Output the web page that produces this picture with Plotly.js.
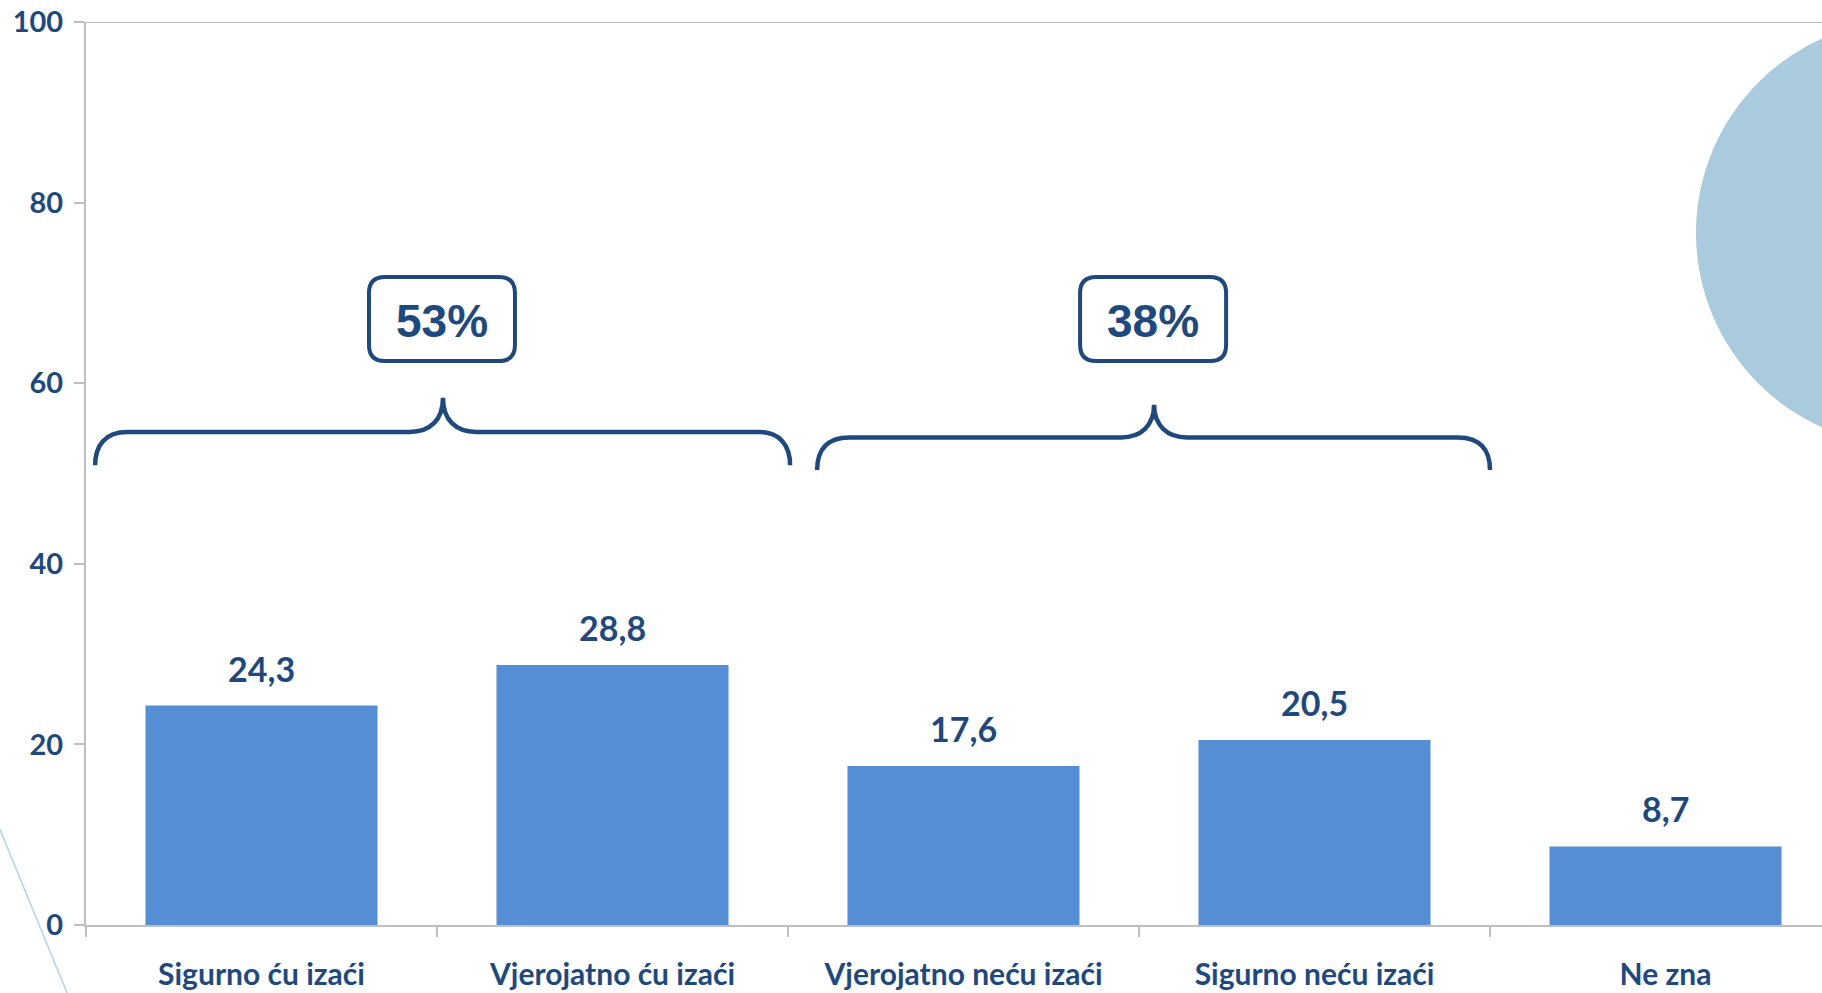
<!DOCTYPE html>
<html>
<head>
<meta charset="utf-8">
<script src="https://cdn.plot.ly/plotly-3.0.1.min.js"></script>
<style>
html,body{margin:0;padding:0;overflow:hidden;background:#fff;}
#chart{width:1822px;height:993px;}
</style>
</head>
<body>
<div id="chart"></div>
<script>
// ---- data ----
const categories = ["Sigurno ću izaći", "Vjerojatno ću izaći", "Vjerojatno neću izaći", "Sigurno neću izaći", "Ne zna"];
const values = [24.3, 28.8, 17.6, 20.5, 8.7];
const yTicks = [0, 20, 40, 60, 80, 100];
const groupLabels = ["53%", "38%"];
const groupLeft = [-0.474, 1.583];
const groupRight = [1.506, 3.5];
const groupPeak = [0.517, 2.543];
const groupEndY = [50.9, 50.4];
const groupLineY = [54.6, 54.0];
const groupPeakY = [58.4, 57.6];

// ---- geometry ----
const W = 1822, H = 993;
const M = {l: 86, r: 0, t: 22, b: 68};
const PW = W - M.l - M.r, PH = H - M.t - M.b;
const catPx = 351;
const xMin = -0.5, xMax = -0.5 + PW / catPx;
const navy = "#1F497D";
const grey = "#BFBFBF";

// data -> pixel, pixel -> paper
const dx = x => M.l + (x - xMin) / (xMax - xMin) * PW;
const dy = y => M.t + (1 - y / 100) * PH;
const ppx = px => (px - M.l) / PW;
const ppy = py => (M.t + PH - py) / PH;
const P = (x, y) => ppx(x).toFixed(5) + "," + ppy(y).toFixed(5);

function bracePath(i) {
  const xl = dx(groupLeft[i]), xr = dx(groupRight[i]), xp = dx(groupPeak[i]);
  const ye = dy(groupEndY[i]), yl = dy(groupLineY[i]), yp = dy(groupPeakY[i]);
  const r = 32, c = 33;
  return "M " + P(xl, ye) +
    " C " + P(xl, ye - 20) + " " + P(xl + 10, yl) + " " + P(xl + r, yl) +
    " L " + P(xp - c, yl) +
    " C " + P(xp - 13, yl) + " " + P(xp, yl - 12) + " " + P(xp, yp) +
    " C " + P(xp, yl - 12) + " " + P(xp + 13, yl) + " " + P(xp + c, yl) +
    " L " + P(xr - r, yl) +
    " C " + P(xr - 10, yl) + " " + P(xr, ye - 20) + " " + P(xr, ye);
}
function roundRect(cx, y0, y1, w, r) {
  const x0 = cx - w / 2, x1 = cx + w / 2;
  return "M " + P(x0 + r, y0) + " L " + P(x1 - r, y0) +
    " Q " + P(x1, y0) + " " + P(x1, y0 + r) +
    " L " + P(x1, y1 - r) + " Q " + P(x1, y1) + " " + P(x1 - r, y1) +
    " L " + P(x0 + r, y1) + " Q " + P(x0, y1) + " " + P(x0, y1 - r) +
    " L " + P(x0, y0 + r) + " Q " + P(x0, y0) + " " + P(x0 + r, y0) + " Z";
}

const shapes = [
  // decorative circle top-right
  {type: "circle", xref: "paper", yref: "paper", layer: "below",
   x0: ppx(1696), x1: ppx(2122), y0: ppy(446), y1: ppy(20),
   fillcolor: "#AACADD", line: {width: 0}},
  // decorative arc bottom-left
  {type: "path", xref: "paper", yref: "paper", layer: "below",
   path: "M " + P(-6, 815) + " Q " + P(28, 898) + " " + P(70, 1000),
   line: {color: "#B7D5E5", width: 1.6}},
  // top frame line
  {type: "line", xref: "paper", yref: "y", x0: 0, x1: 1, y0: 100, y1: 100,
   line: {color: grey, width: 2}}
];
const annotations = [];

values.forEach((v, i) => {
  annotations.push({
    x: categories[i], y: v, xref: "x", yref: "y",
    text: v.toFixed(1).replace(".", ","),
    showarrow: false, yanchor: "bottom", yshift: 15,
    font: {family: "Lato, sans-serif", size: 34, color: navy, weight: "bold"}
  });
});

groupLabels.forEach((lab, i) => {
  shapes.push({type: "path", xref: "paper", yref: "paper",
    path: bracePath(i), line: {color: navy, width: 4.5}});
  const cx = dx(groupPeak[i]) - 1;
  shapes.push({type: "path", xref: "paper", yref: "paper",
    path: roundRect(cx, 277, 361, 146, 16), line: {color: navy, width: 4}});
  annotations.push({
    x: ppx(cx), y: ppy(321), xref: "paper", yref: "paper",
    text: lab, showarrow: false, xanchor: "center", yanchor: "middle",
    font: {family: "Liberation Sans, Arial, sans-serif", size: 46, color: navy, weight: "bold"}
  });
});

const trace = {
  type: "bar", x: categories, y: values,
  marker: {color: "#558ED5", line: {width: 0}},
  hoverinfo: "x+y"
};

const layout = {
  width: W, height: H, autosize: false,
  margin: M,
  paper_bgcolor: "rgba(0,0,0,0)", plot_bgcolor: "rgba(0,0,0,0)",
  bargap: 0.339,
  showlegend: false,
  xaxis: {
    type: "category", range: [xMin, xMax],
    tickson: "boundaries", ticks: "outside", ticklen: 10, tickwidth: 2, tickcolor: grey,
    showline: true, linecolor: grey, linewidth: 2, showgrid: false, zeroline: false,
    tickfont: {family: "Lato, sans-serif", size: 30, color: navy, weight: "bold"},
    ticklabelstandoff: 22, fixedrange: true
  },
  yaxis: {
    range: [0, 100], tickvals: yTicks, ticktext: yTicks.map(String),
    ticks: "outside", ticklen: 10, tickwidth: 2, tickcolor: grey,
    showline: true, linecolor: grey, linewidth: 2, showgrid: false, zeroline: false,
    tickfont: {family: "Lato, sans-serif", size: 29, color: navy, weight: "bold"},
    ticklabelstandoff: 5, fixedrange: true
  },
  shapes: shapes,
  annotations: annotations
};

Plotly.newPlot("chart", [trace], layout, {displayModeBar: false, staticPlot: true});
</script>
</body>
</html>
